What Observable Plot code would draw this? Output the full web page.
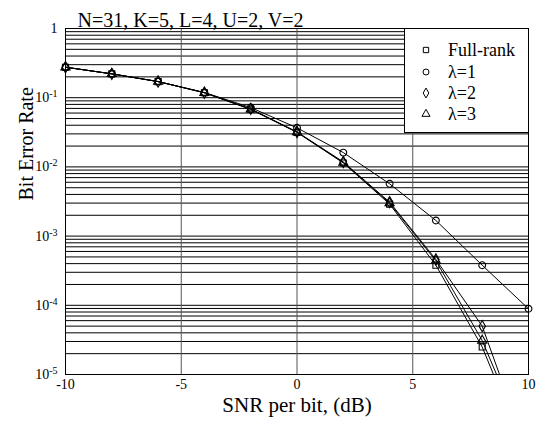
<!DOCTYPE html>
<html>
<head>
<meta charset="utf-8">
<script src="https://cdn.jsdelivr.net/npm/d3@7"></script>
<script src="https://cdn.jsdelivr.net/npm/@observablehq/plot@0.6"></script>
<style>
  html, body { margin: 0; padding: 0; background: white; }
  #chart { width: 543px; height: 421px; }
  #chart svg, #chart svg text { font-family: "Liberation Serif", "Times New Roman", serif !important; }
</style>
</head>
<body>
<div id="chart"></div>
<script>
// ---- Data ----
const snr = [-10, -8, -6, -4, -2, 0, 2, 4, 6, 8, 10];
const berFullRank = [0.276, 0.221, 0.171, 0.118, 0.068, 0.0315, 0.0114, 0.0029, 3.8e-4, 2.5e-5, 5.9e-7];
const berLambda1  = [0.276, 0.221, 0.171, 0.119, 0.072, 0.0367, 0.0161, 0.0057, 1.68e-3, 3.8e-4, 8.9e-5];
const berLambda2  = [0.276, 0.221, 0.171, 0.118, 0.069, 0.0320, 0.0118, 0.0031, 4.6e-4, 5.0e-5, 6.8e-7];
const berLambda3  = [0.276, 0.221, 0.171, 0.118, 0.068, 0.0318, 0.0116, 0.0030, 4.4e-4, 3.1e-5, 8.1e-7];
const seriesNames = ["Full-rank", "λ=1", "λ=2", "λ=3"];
const seriesSymbols = ["square", "circle", "diamond", "triangle"];
const xTickValues = [-10, -5, 0, 5, 10];
const xGridValues = [-5, 0, 5];
const yTickValues = [1, 1e-1, 1e-2, 1e-3, 1e-4, 1e-5];
const yExponents = [0, -1, -2, -3, -4, -5];
const mantissas = [1, 2, 3, 4, 5, 6, 7, 8, 9];
const titleText = "N=31, K=5, L=4, U=2, V=2";
const xLabel = "SNR per bit, (dB)";
const yLabel = "Bit Error Rate";

// ---- Build table ----
const allSeries = [berFullRank, berLambda1, berLambda2, berLambda3];
const rows = [];
allSeries.forEach((vals, si) => {
  vals.forEach((v, i) => rows.push({series: seriesNames[si], snr: snr[i], ber: v}));
});
const yMin = 1e-5, yMax = 1;
const visibleRows = rows.filter(d => d.ber >= yMin);
// log grid positions (1..9 x 10^k)
const gridY = [];
yExponents.slice(1).forEach(e => mantissas.forEach(m => gridY.push(m * Math.pow(10, e))));
gridY.push(1);

const W = 543, H = 421;
const mL = 65, mR = 15, mT = 28, mB = 47;
const font = "'Liberation Serif', 'Times New Roman', serif";

const chart = Plot.plot({
  width: W, height: H,
  marginLeft: mL, marginRight: mR, marginTop: mT, marginBottom: mB,
  style: {fontFamily: font, fontSize: "14px", color: "black", background: "white"},
  x: {domain: [-10, 10]},
  y: {type: "log", domain: [yMin, yMax]},
  symbol: {domain: seriesNames, range: seriesSymbols},
  marks: [
    Plot.ruleY(gridY, {stroke: "black", strokeWidth: 1}),
    Plot.ruleX(xGridValues, {stroke: "#555", strokeWidth: 1}),
    Plot.line(rows, {x: "snr", y: "ber", z: "series", stroke: "black", strokeWidth: 1, clip: true}),
    Plot.dot(visibleRows, {x: "snr", y: "ber", symbol: "series", stroke: "black", fill: "none", strokeWidth: 1.1, r: 3.4}),
    Plot.frame({stroke: "black", strokeWidth: 1}),
    Plot.axisX({ticks: xTickValues, tickSize: 0, tickPadding: 5, tickFormat: d => String(d), label: null, fontSize: 14}),
    Plot.axisY({ticks: yTickValues, tickSize: 0, tickPadding: 8, label: null, fontSize: 14,
      tickFormat: d => { const e = Math.round(Math.log10(d)); return e === 0 ? "1" : "10^" + e; }}),
    Plot.text([xLabel], {text: d => d, frameAnchor: "bottom", dy: 37.5, fontSize: 21}),
    Plot.text([yLabel], {text: d => d, frameAnchor: "left", rotate: -90, dx: -39, dy: -1, fontSize: 20}),
    Plot.text([titleText], {text: d => d, frameAnchor: "top-left", textAnchor: "start", dx: 12, dy: -16, fontSize: 20})
  ]
});
document.getElementById("chart").appendChild(chart);

// Superscript exponents for y tick labels
const svg = d3.select(chart);
svg.selectAll('g[aria-label="y-axis tick label"] text').each(function() {
  const t = d3.select(this);
  const s = t.text();
  if (s.includes("^")) {
    const [base, exp] = s.split("^");
    t.text("");
    t.append("tspan").text(base);
    t.append("tspan").attr("dy", "-0.5em").attr("font-size", "10px").text(exp);
  }
});

// Legend box (top-right inside the frame)
const plotRight = W - mR;
const legW = 124, legH = 104;
const lg = svg.append("g").attr("font-size", 18).attr("text-anchor", "start");
lg.append("rect").attr("x", plotRight - legW + 0.5).attr("y", mT + 0.5)
  .attr("width", legW).attr("height", legH)
  .attr("fill", "white").attr("stroke", "black").attr("stroke-width", 1);
const symMap = {square: d3.symbolSquare, circle: d3.symbolCircle, diamond: d3.symbolDiamond, triangle: d3.symbolTriangle};
const rowY = [50, 72, 93, 114];
seriesNames.forEach((name, i) => {
  const cx = plotRight - legW + 22, cy = rowY[i];
  lg.append("path")
    .attr("d", d3.symbol(symMap[seriesSymbols[i]], Math.PI * 3 * 3)())
    .attr("transform", `translate(${cx},${cy})`)
    .attr("fill", "none").attr("stroke", "black").attr("stroke-width", 1);
  lg.append("text").attr("x", cx + 22).attr("y", cy).attr("dy", "0.35em").attr("text-anchor", "start").text(name);
});
</script>
</body>
</html>
